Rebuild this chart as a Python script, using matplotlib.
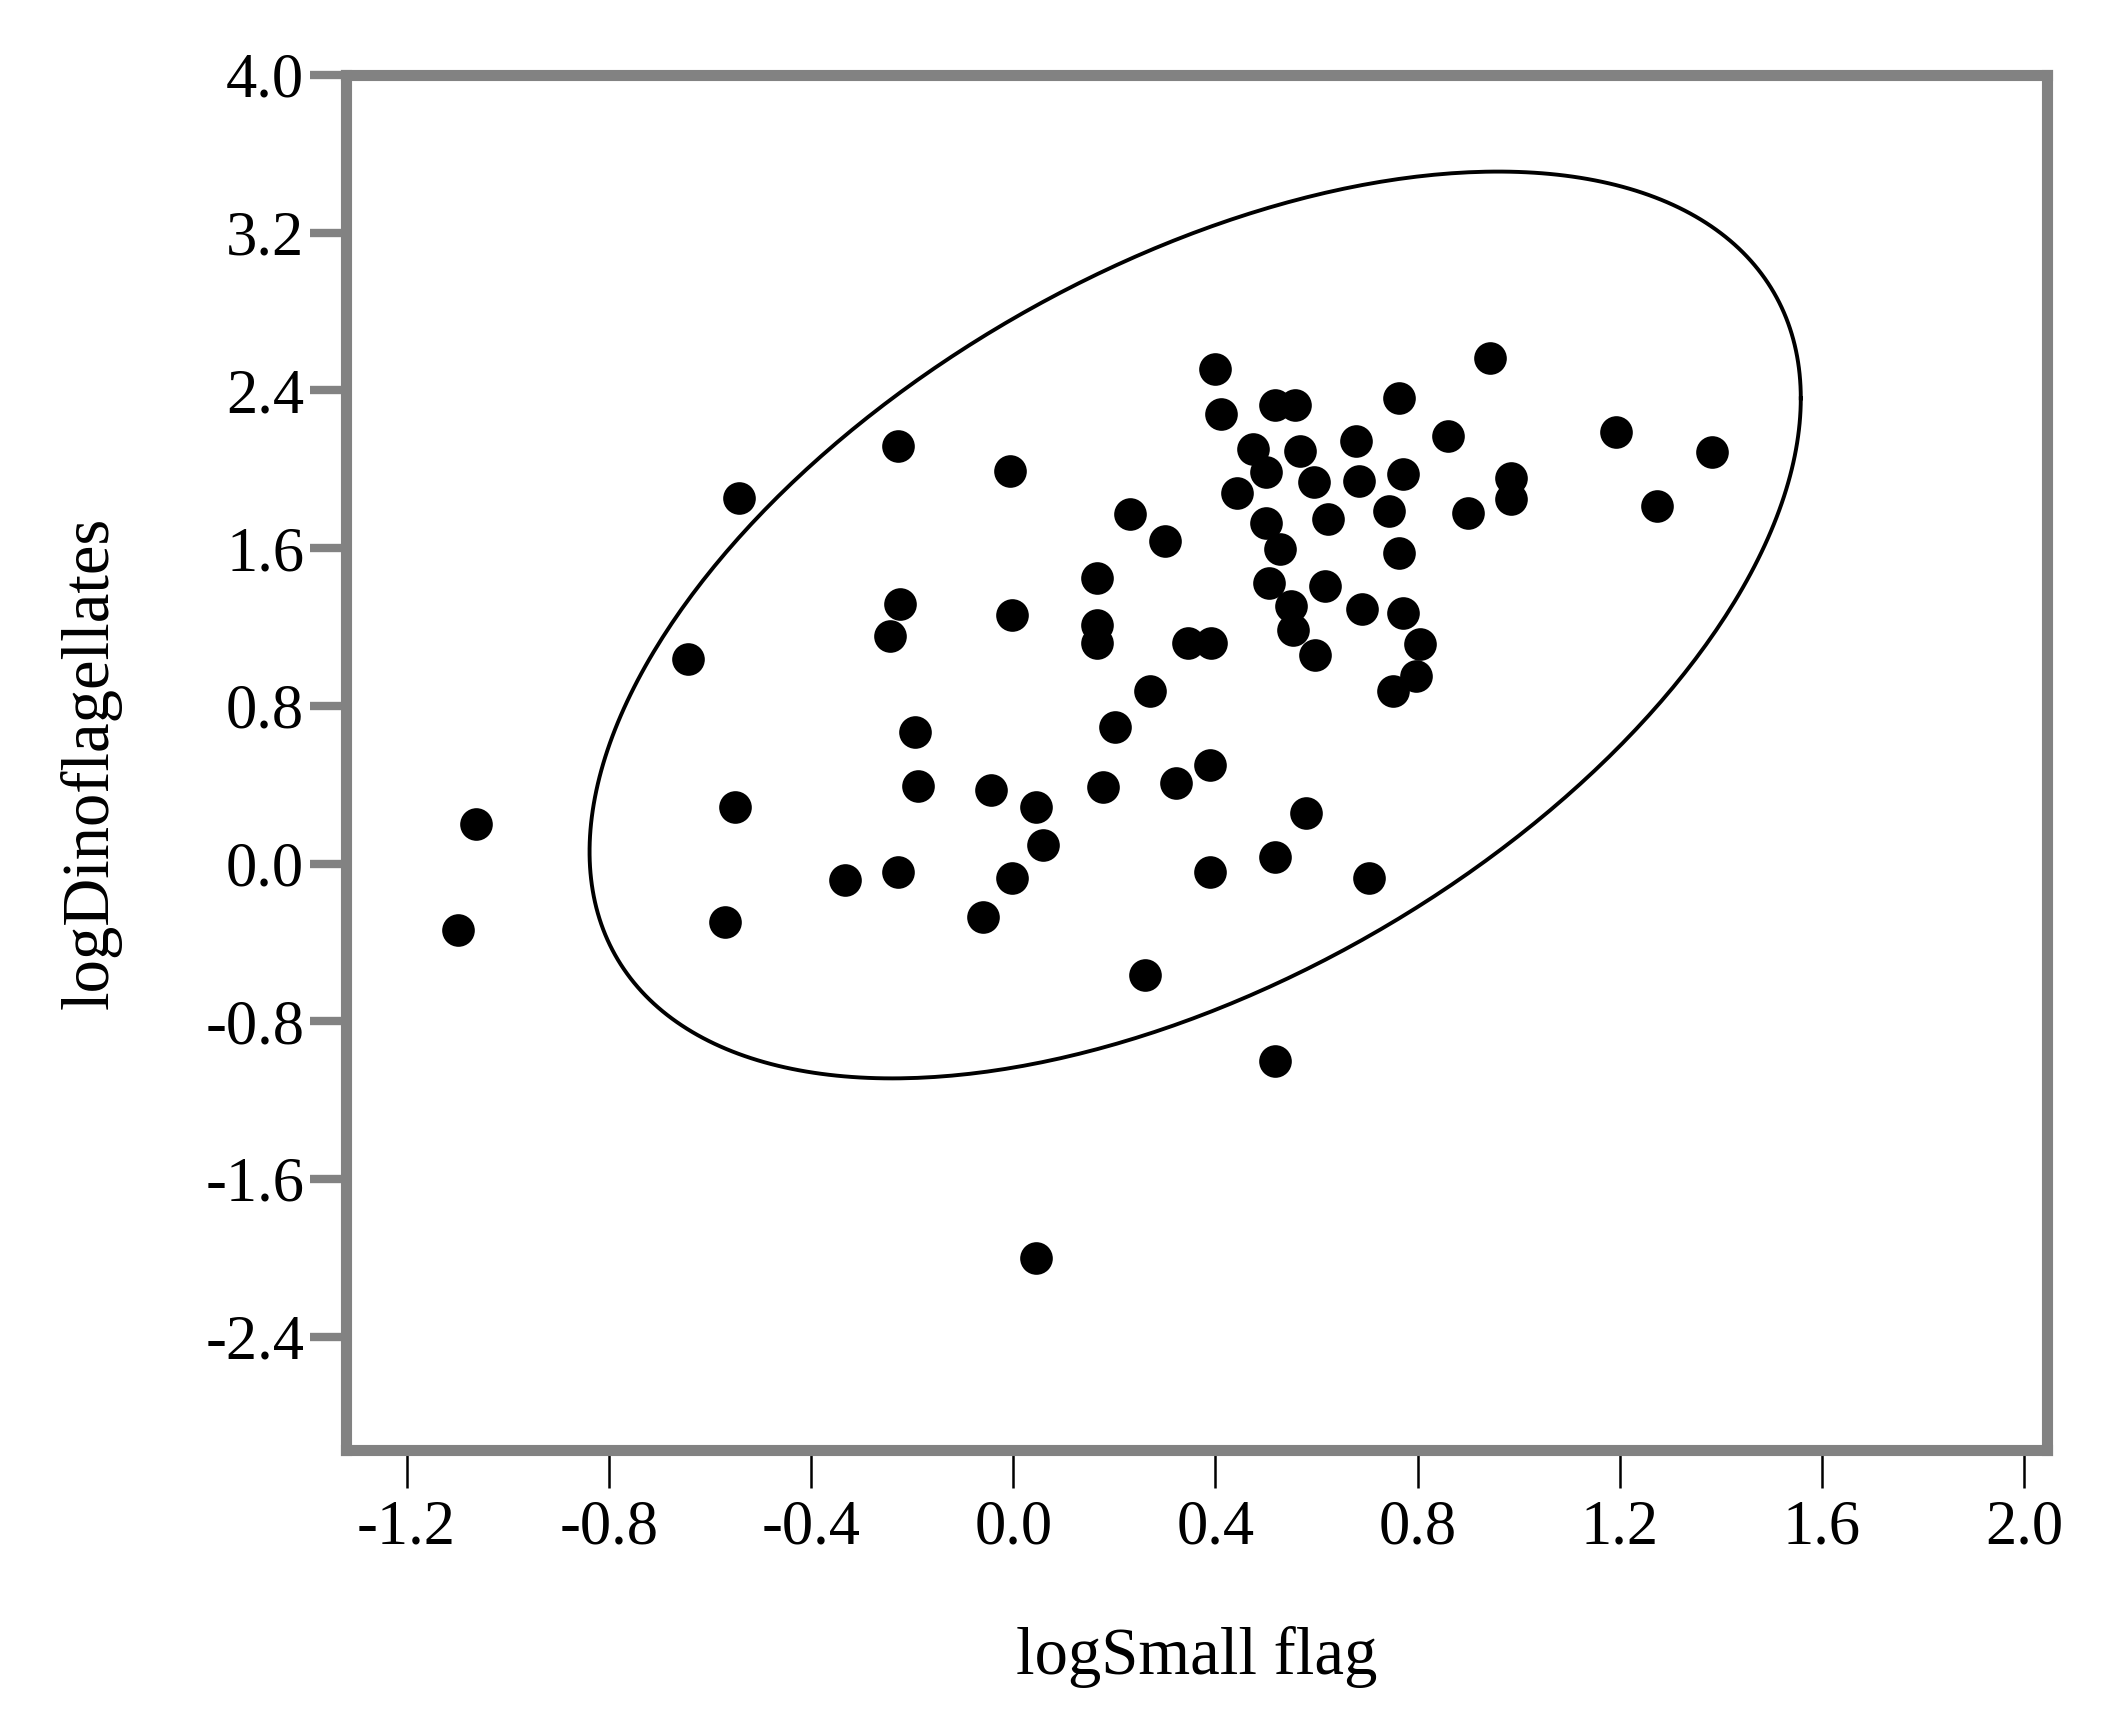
import numpy as np
import matplotlib
matplotlib.use('Agg')
import matplotlib.pyplot as plt

plt.rcParams['font.family'] = ['Liberation Serif', 'DejaVu Serif']
plt.rcParams['axes.unicode_minus'] = False

# Points
logSmall = [-1.098, -1.062, -0.643, -0.542, -0.550, -0.570, -0.333, -0.228, -0.224, -0.244,
            -0.228, -0.194, -0.188, -0.059, -0.043, -0.006, -0.002, -0.002, 0.046, 0.058,
            0.045, 0.165, 0.166, 0.166, 0.178, 0.201, 0.231, 0.261, 0.270, 0.300,
            0.322, 0.346, 0.392, 0.389, 0.389, 0.400, 0.412, 0.517, 0.517, 0.580,
            0.703, 0.517, 0.557, 0.474, 0.501, 0.442, 0.567, 0.596, 0.623, 0.501,
            0.527, 0.507, 0.550, 0.553, 0.616, 0.598, 0.690, 0.771, 0.804, 0.797,
            0.751, 0.679, 0.764, 0.860, 0.943, 0.685, 0.771, 0.744, 0.764, 0.899,
            0.985, 0.985, 1.192, 1.274, 1.383]
logDino = [-0.337, 0.198, 1.036, 1.853, 0.286, -0.298, -0.084, 2.116, 1.318, 1.153,
           -0.045, 0.669, 0.393, -0.269, 0.374, 1.989, 1.259, -0.074, 0.286, 0.092,
           -2.0, 1.450, 1.212, 1.119, 0.390, 0.695, 1.772, -0.568, 0.873, 1.636,
           0.410, 1.119, 1.119, 0.500, -0.042, 2.509, 2.280, 0.034, -1.0, 0.254,
           -0.076, 2.326, 2.326, 2.102, 1.984, 1.882, 2.094, 1.933, 1.746, 1.729,
           1.594, 1.424, 1.306, 1.187, 1.407, 1.060, 1.289, 1.272, 1.111, 0.950,
           0.873, 2.145, 2.360, 2.170, 2.564, 1.941, 1.975, 1.789, 1.577, 1.780,
           1.958, 1.848, 2.187, 1.814, 2.085]

# 95% ellipse as seen in the picture
ellCenter = (0.36, 1.21)
ellHalfX = 1.198
ellHalfY = 2.30
ellCorr = 0.50

xTicks = [-1.2, -0.8, -0.4, 0.0, 0.4, 0.8, 1.2, 1.6, 2.0]
yTicks = [-2.4, -1.6, -0.8, 0.0, 0.8, 1.6, 2.4, 3.2, 4.0]

fig = plt.figure(figsize=(21.04, 17.28), dpi=100)
ax = fig.add_axes([0.1644, 0.1609, 0.8085, 0.7957])

t = np.linspace(0, 2 * np.pi, 400)
phi = np.arccos(ellCorr)
ex = ellCenter[0] + ellHalfX * np.cos(t)
ey = ellCenter[1] + ellHalfY * np.cos(t - phi)
ax.plot(ex, ey, color='black', lw=2.8, zorder=2)

ax.plot(logSmall, logDino, 'o', color='black', ms=23.5, mew=0, zorder=3)

ax.set_xlim(-1.32, 2.045)
ax.set_ylim(-2.975, 4.0)
ax.set_xticks(xTicks)
ax.set_xticklabels(['%.1f' % v for v in xTicks])
ax.set_yticks(yTicks)
ax.set_yticklabels(['%.1f' % v for v in yTicks])

for s in ax.spines.values():
    s.set_color('#828282')
    s.set_linewidth(8)

ax.tick_params(axis='x', length=27, width=1.8, color='black', pad=9, labelsize=45)
ax.tick_params(axis='y', length=26, width=6, color='#828282', pad=4, labelsize=45)

ax.set_xlabel('logSmall flag', fontsize=48)
ax.set_ylabel('logDinoflagellates', fontsize=48)
ax.xaxis.set_label_coords(0.5, -0.128)
ax.yaxis.set_label_coords(-0.132, 0.5)

fig.savefig('out.png', dpi=100)
